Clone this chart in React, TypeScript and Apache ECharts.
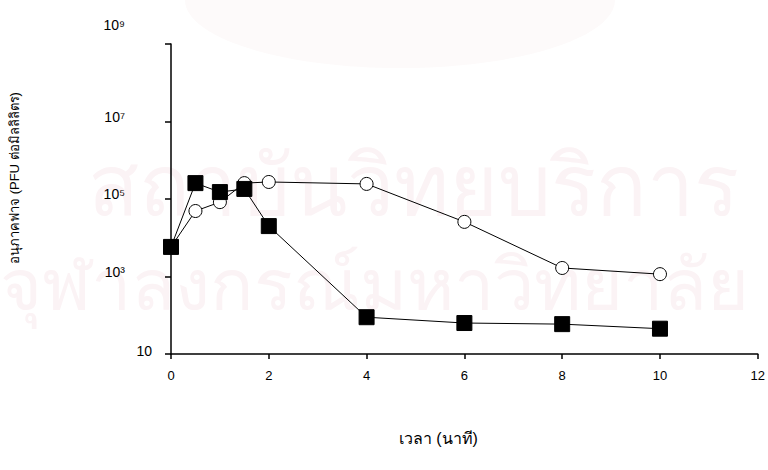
import React, { useEffect, useRef } from "react";
import * as echarts from "echarts";

const xValues = [0, 0.5, 1, 1.5, 2, 4, 6, 8, 10];
const filledSquare = [5800, 257000, 151000, 182000, 20000, 89, 63, 59, 45];
const openCircle = [5800, 49000, 83000, 257000, 275000, 245000, 25700, 1660, 1150];
const yTickValues = [10, 1e3, 1e5, 1e7, 1e9];
const yTickLabels = ["10", "10³", "10⁵", "10⁷", "10⁹"];
const xAxisTitle = "เวลา (นาที)";
const yAxisTitle = "อนุภาคฟาจ (PFU ต่อมิลลิลิตร)";
const watermark1 = "สถาบันวิทยบริการ";
const watermark2 = "จุฬาลงกรณ์มหาวิทยาลัย";

export default function App() {
  const ref = useRef<HTMLDivElement>(null);
  useEffect(() => {
    if (!ref.current) return;
    const chart = echarts.init(ref.current, null, { renderer: "svg" });
    const font = "'Liberation Sans', Arial, sans-serif";
    chart.setOption({
      animation: false,
      backgroundColor: "#ffffff",
      graphic: [
        {
          type: "ellipse", silent: true, z: -20,
          shape: { cx: 400, cy: 0, rx: 215, ry: 68 },
          style: { fill: "#fdfafa" },
        },
        {
          type: "text", left: 88, top: 140, silent: true, z: -10,
          style: { text: watermark1, font: "84px 'Noto Sans', sans-serif", fill: "#fbf3f5" },
        },
        {
          type: "text", left: 0, top: 246, silent: true, z: -10,
          style: { text: watermark2, font: "72px 'Noto Sans', sans-serif", fill: "#fbf3f5" },
        },
      ],
      grid: { left: 170, right: 5, top: 44, bottom: 116, containLabel: false },
      xAxis: {
        type: "value",
        min: 0,
        max: 12,
        interval: 2,
        name: xAxisTitle,
        nameLocation: "middle",
        nameGap: 76,
        nameTextStyle: { fontFamily: font, fontSize: 16, color: "#000", padding: [0, 52, 0, 0] },
        axisLine: { lineStyle: { color: "#000", width: 1.5 } },
        axisTick: { show: true, length: 5, lineStyle: { color: "#000", width: 1.5 } },
        axisLabel: { color: "#000", fontFamily: font, fontSize: 13, margin: 15 },
        splitLine: { show: false },
      },
      yAxis: {
        type: "log",
        logBase: 10,
        min: 10,
        max: 1e9,
        name: yAxisTitle,
        nameLocation: "middle",
        nameGap: 150,
        nameRotate: 90,
        nameTextStyle: { fontFamily: font, fontSize: 13, color: "#000", padding: [0, 0, 0, 42] },
        axisLine: { lineStyle: { color: "#000", width: 1.5 } },
        axisTick: { show: true, length: 6, customValues: yTickValues, lineStyle: { color: "#000", width: 1.5 } },
        axisLabel: {
          color: "#000",
          fontFamily: font,
          fontSize: 14,
          margin: 19,
          customValues: yTickValues,
          formatter: (v: number) => {
            const i = yTickValues.findIndex((t) => Math.abs(Math.log10(t) - Math.log10(v)) < 0.01);
            if (i < 0) return "";
            if (i === 0) return "{b|" + yTickLabels[i] + "}";
            if (i === yTickValues.length - 1) return "{t|" + yTickLabels[i] + "}";
            return "{s|" + yTickLabels[i] + "}";
          },
          rich: {
            b: { fontFamily: font, fontSize: 14, color: "#000", padding: [0, 0, 6, 0] },
            s: { fontFamily: font, fontSize: 14, color: "#000", padding: [0, 27, 10, 0] },
            t: { fontFamily: font, fontSize: 14, color: "#000", padding: [0, 27, 38, 0] },
          },
        },
        splitLine: { show: false },
      },
      series: [
        {
          type: "line",
          data: xValues.map((x, i) => [x, openCircle[i]]),
          symbol: "circle",
          symbolSize: 13,
          itemStyle: { color: "#fff", borderColor: "#000", borderWidth: 1 },
          lineStyle: { color: "#000", width: 1 },
          z: 2,
        },
        {
          type: "line",
          data: xValues.map((x, i) => [x, filledSquare[i]]),
          symbol: "rect",
          symbolSize: 15,
          itemStyle: { color: "#000", borderColor: "#000", borderWidth: 1 },
          lineStyle: { color: "#000", width: 1 },
          z: 3,
        },
      ],
    });
    return () => chart.dispose();
  }, []);
  return <div ref={ref} style={{ position: "absolute", left: 0, top: 0, width: 768, height: 470 }} />;
}
